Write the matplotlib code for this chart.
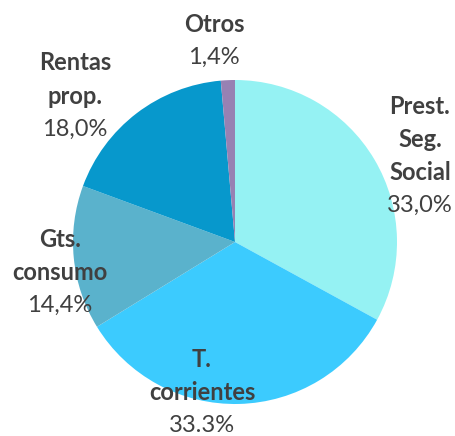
import matplotlib
matplotlib.use('Agg')
import matplotlib.pyplot as plt

categories = ['Prest.\nSeg.\nSocial', 'T.\ncorrientes', 'Gts.\nconsumo', 'Rentas\nprop.', 'Otros']
values = [33.0, 33.3, 14.4, 18.0, 1.4]
value_labels = ['33,0%', '33.3%', '14,4%', '18,0%', '1,4%']
colors = ['#95f2f3', '#3ccbfe', '#5ab2cc', '#0798cc', '#9781b3']

# label block centres in pixels (x, y from top)
label_pos = [(420, 156), (202, 392), (60, 272), (75, 96), (214, 41)]

W, H = 456, 436
plt.rcParams['font.family'] = ['Lato', 'DejaVu Sans']

fig = plt.figure(figsize=(W / 100, H / 100), dpi=100)
ax = fig.add_axes([73 / W, (H - 404) / H, 324 / W, 324 / H])
ax.pie(values, colors=colors, startangle=90, counterclock=False,
       wedgeprops=dict(linewidth=0))
ax.set_xlim(-1, 1)
ax.set_ylim(-1, 1)
ax.set_aspect('equal')
ax.axis('off')

line_h = 33
for name, val, (cx, cy) in zip(categories, value_labels, label_pos):
    lines = name.split('\n') + [val]
    n = len(lines)
    top = cy - (n - 1) * line_h / 2
    for i, s in enumerate(lines):
        y = top + i * line_h
        fig.text(cx / W, 1 - y / H, s, ha='center', va='center',
                 fontsize=17, color='#404040',
                 fontweight='bold' if i < n - 1 else 'normal')

fig.savefig('out.png', dpi=100)
